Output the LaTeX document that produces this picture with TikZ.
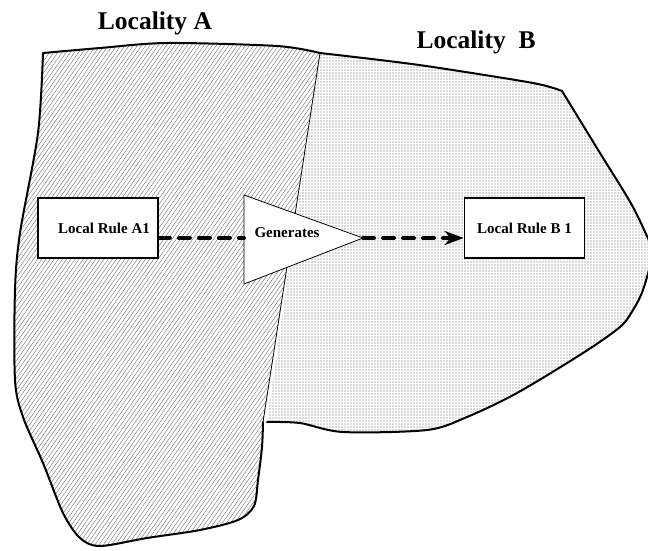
\documentclass[tikz,border=0pt]{standalone}
\usepackage{fontspec}
\setmainfont{Liberation Serif}
\usetikzlibrary{patterns.meta,arrows.meta}
\begin{document}
\begin{tikzpicture}[x=1pt,y=-1pt,
  outline/.style={line width=2pt, line join=round, line cap=round},
  hatchfill/.style={pattern={Lines[angle=55,distance=3.4pt,line width=0.5pt]}, pattern color=black!50},
  dotfill/.style={pattern={Dots[radius=0.55pt,distance=3pt]}, pattern color=black!65},
  rulebox/.style={draw, line width=1.8pt, fill=white, minimum width=120pt, minimum height=60pt, inner sep=0pt, font=\bfseries\fontsize{15}{15}\selectfont},
  flow/.style={line width=4pt, dash pattern=on 11pt off 9pt, line cap=round},
  title/.style={font=\bfseries\fontsize{25.5}{25.5}\selectfont, anchor=base},
  small/.style={font=\bfseries\fontsize{15}{15}\selectfont, anchor=base}]
\useasboundingbox (0,0) rectangle (648,550);
% Locality B region
\draw[outline, dotfill]
  plot[smooth] coordinates {(320,53) (380,60) (433,67) (533,83) (562,91)}
  -- plot[smooth] coordinates {(562,91) (600,153) (633,207) (654,252)}
  -- plot[smooth] coordinates {(654,252) (643,290) (633,310) (620,327) (583,353) (517,393) (467,417) (427,430) (343,432) (300,423) (267,422)};
% Locality A region
\draw[outline, hatchfill]
  plot[smooth] coordinates {(320,53) (277,46) (167,43) (100,48) (43,53)}
  -- plot[smooth] coordinates {(43,53) (38,133) (20,233) (15,290) (15,380) (23,417) (43,463) (63,513) (80,538) (100,546) (147,538) (200,530) (238,520) (254,506) (258,480) (262,447) (263,422)};
% border between the localities
\draw[line width=0.8pt] (320,53) -- (263,422);
% titles
\node[title] (la) at (155,29) {Locality A};
\node[title] (lb) at (476,48) {Locality\ \ B};
% rule boxes
\node[rulebox] (ra) at (98,228) {\hspace*{12pt}Local Rule A1};
\node[rulebox] (rb) at (524.5,228) {Local Rule B 1};
% generator triangle
\coordinate (ta) at (244,195);
\coordinate (tb) at (244,284);
\coordinate (tip) at (363,238);
\coordinate (tin) at (244,238);
\draw[line width=0.8pt, fill=white, line join=miter] (ta) -- (tip) -- (tb) -- cycle;
\node[small] (gen) at (287,237) {Generates};
% connectors
\draw[flow] (ra.east |- tin) -- (tin);
\draw[flow, -{Stealth[length=19pt,width=14pt,inset=6pt]}] (tip) -- (rb.west |- tip);
\end{tikzpicture}
\end{document}
